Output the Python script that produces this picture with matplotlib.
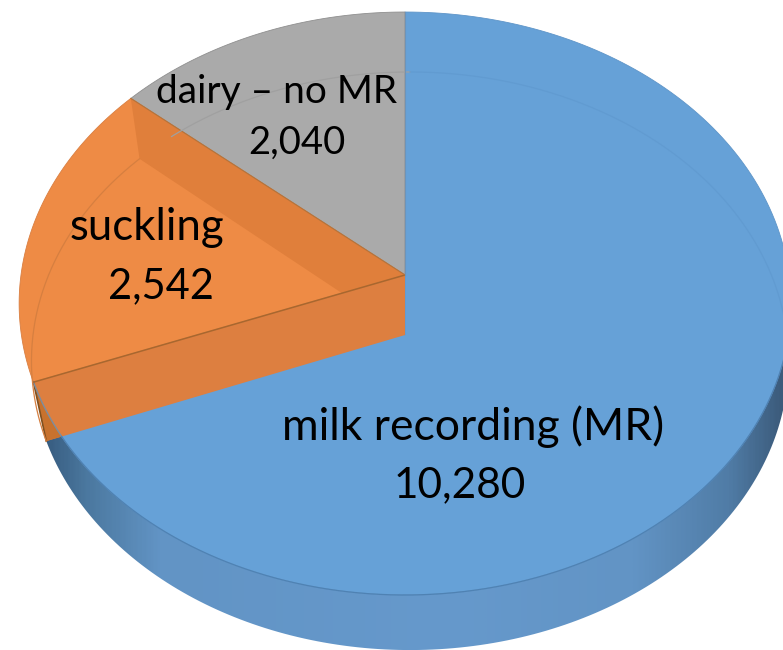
import numpy as np
import matplotlib
matplotlib.use("Agg")
import matplotlib.pyplot as plt
from matplotlib.colors import LinearSegmentedColormap
from matplotlib.patches import Polygon

# ----- DATA -----
categories = ["milk recording (MR)", "suckling", "dairy – no MR"]
values = [10280, 2542, 2040]

# ----- CONFIG -----
label_xy = [(473, 427, 460, 485), (147, 228, 161, 286), (277, 92, 297, 143)]
name_size = [32, 31.5, 28]
value_size = [30.5, 30, 27.5]

blue = "#66a1d7"
orange_light = "#ee8b45"
orange_band = "#e07f3b"
orange_wall = "#dd7f40"
orange_sliver = "#c8722e"
grey = "#aaaaaa"

# top face and bottom face of the pie, seen in perspective
top_disk = dict(cx=405, cy=275, a=384, b=288.7, k=0.0978)
bottom_disk = dict(cx=410, cy=335, a=377, b=286.7, k=0.09)


def project(deg, disk):
    # angle is clockwise from 12 o'clock
    t = np.radians(deg)
    u, v = np.sin(t), np.cos(t)
    w = 1 + disk["k"] * v
    return np.column_stack([disk["cx"] + disk["a"] * u / w, disk["cy"] - disk["b"] * v / w])


def arc(start, end, disk):
    return project(np.linspace(start, end, 200), disk)


def cross_point(p1, p2, p3, p4):
    mat = np.array([p2 - p1, p3 - p4]).T
    s = np.linalg.solve(mat, p3 - p1)[0]
    return p1 + s * (p2 - p1)


# slice limits come from the values
total = sum(values)
blue_end = values[0] / total * 360
orange_end = (values[0] + values[1]) / total * 360

top_apex = np.array([405, 275], dtype=float)
bot_apex = np.array([405, 335], dtype=float)
top_a = project(np.array([blue_end]), top_disk)[0]
bot_a = project(np.array([blue_end]), bottom_disk)[0]
top_b = project(np.array([orange_end]), top_disk)[0]
bot_b = project(np.array([orange_end]), bottom_disk)[0]

fig = plt.figure(figsize=(7.83, 6.5), dpi=100)
ax = fig.add_axes([0, 0, 1, 1])

# ----- SIDE WALL -----
wall_cmap = LinearSegmentedColormap.from_list(
    "wall",
    [(0.0, "#35597d"), (0.06, "#4b789f"), (0.16, "#6294c5"), (0.55, "#6699cc"),
     (0.80, "#6294c5"), (0.93, "#507ca6"), (1.0, "#3c5c7c")],
)
wall_pts = np.vstack([arc(60, blue_end, bottom_disk), arc(blue_end, 60, top_disk)])
wall_patch = Polygon(wall_pts, closed=True, facecolor="none", edgecolor="none")
ax.add_patch(wall_patch)
gradient = np.linspace(0, 1, 400).reshape(1, -1)
img = ax.imshow(gradient, cmap=wall_cmap, extent=[40, 783, 650, 300], aspect="auto")
img.set_clip_path(wall_patch)

# ----- TOP FACE -----
blue_pts = np.vstack([bot_apex, arc(0, blue_end, top_disk)])
ax.add_patch(Polygon(blue_pts, closed=True, facecolor=blue, edgecolor="#5f95c8", lw=0.6))

ax.add_patch(Polygon(np.vstack([top_apex, arc(orange_end, 360, top_disk)]), closed=True,
                     facecolor=grey, edgecolor="#8f8f8f", lw=0.6))
ax.add_patch(Polygon(np.vstack([top_apex, arc(blue_end, orange_end, top_disk)]), closed=True,
                     facecolor=orange_light, edgecolor="#d97f42", lw=0.6))

# darker band inside the orange wedge
band_end = cross_point(bot_apex, bot_b, top_apex, top_a)
ax.add_patch(Polygon([top_b, bot_b, band_end, top_apex], closed=True,
                     facecolor=orange_band, edgecolor="none"))

# front wall of the orange wedge
ax.add_patch(Polygon([top_apex, bot_apex, bot_a, top_a], closed=True,
                     facecolor=orange_wall, edgecolor="none"))

# small dark piece outside the top face
deg = np.linspace(180, blue_end, 2000)
pts = project(deg, top_disk)
side = (bot_a[0] - bot_apex[0]) * (pts[:, 1] - bot_apex[1]) - (bot_a[1] - bot_apex[1]) * (pts[:, 0] - bot_apex[0])
cut_deg = deg[np.argmin(np.abs(side))]
ax.add_patch(Polygon(np.vstack([arc(cut_deg, blue_end, top_disk), bot_a]), closed=True,
                     facecolor=orange_sliver, edgecolor="none"))
ax.plot([top_a[0], bot_a[0]], [top_a[1], bot_a[1]], color="#80501f", lw=1.2)

# ----- EDGES AND SEE-THROUGH ARCS -----
ax.plot(*arc(cut_deg, blue_end, top_disk).T, color="#7c8ea0", lw=1)
ax.plot(*np.column_stack([top_apex, top_a]), color="#a8672f", lw=1.1)
ax.plot(*np.column_stack([top_apex, top_b]), color="#b4743c", lw=0.8)
ax.plot(*arc(blue_end, orange_end, bottom_disk).T, color="#d67f40", lw=0.9)
ax.plot(*arc(orange_end + 7, 360, bottom_disk).T, color="#a0a0a0", lw=0.9)
ax.plot(*arc(0, 92, bottom_disk).T, color="#619bd1", lw=0.9)
ax.plot(*arc(95, 238, top_disk).T, color="#4f82b3", lw=0.9)
ax.plot([405, 405], [12, 275], color="#6d93b8", lw=0.8)

# ----- LABELS -----
for i, name in enumerate(categories):
    xy = label_xy[i]
    ax.text(xy[0], xy[1], name, ha="center", va="center", fontsize=name_size[i],
            family="Lato", color="black")
    ax.text(xy[2], xy[3], f"{values[i]:,}", ha="center", va="center", fontsize=value_size[i],
            family="Lato", color="black")

ax.set_xlim(0, 783)
ax.set_ylim(650, 0)
ax.axis("off")

fig.savefig("out.png", dpi=100)
plt.close()
